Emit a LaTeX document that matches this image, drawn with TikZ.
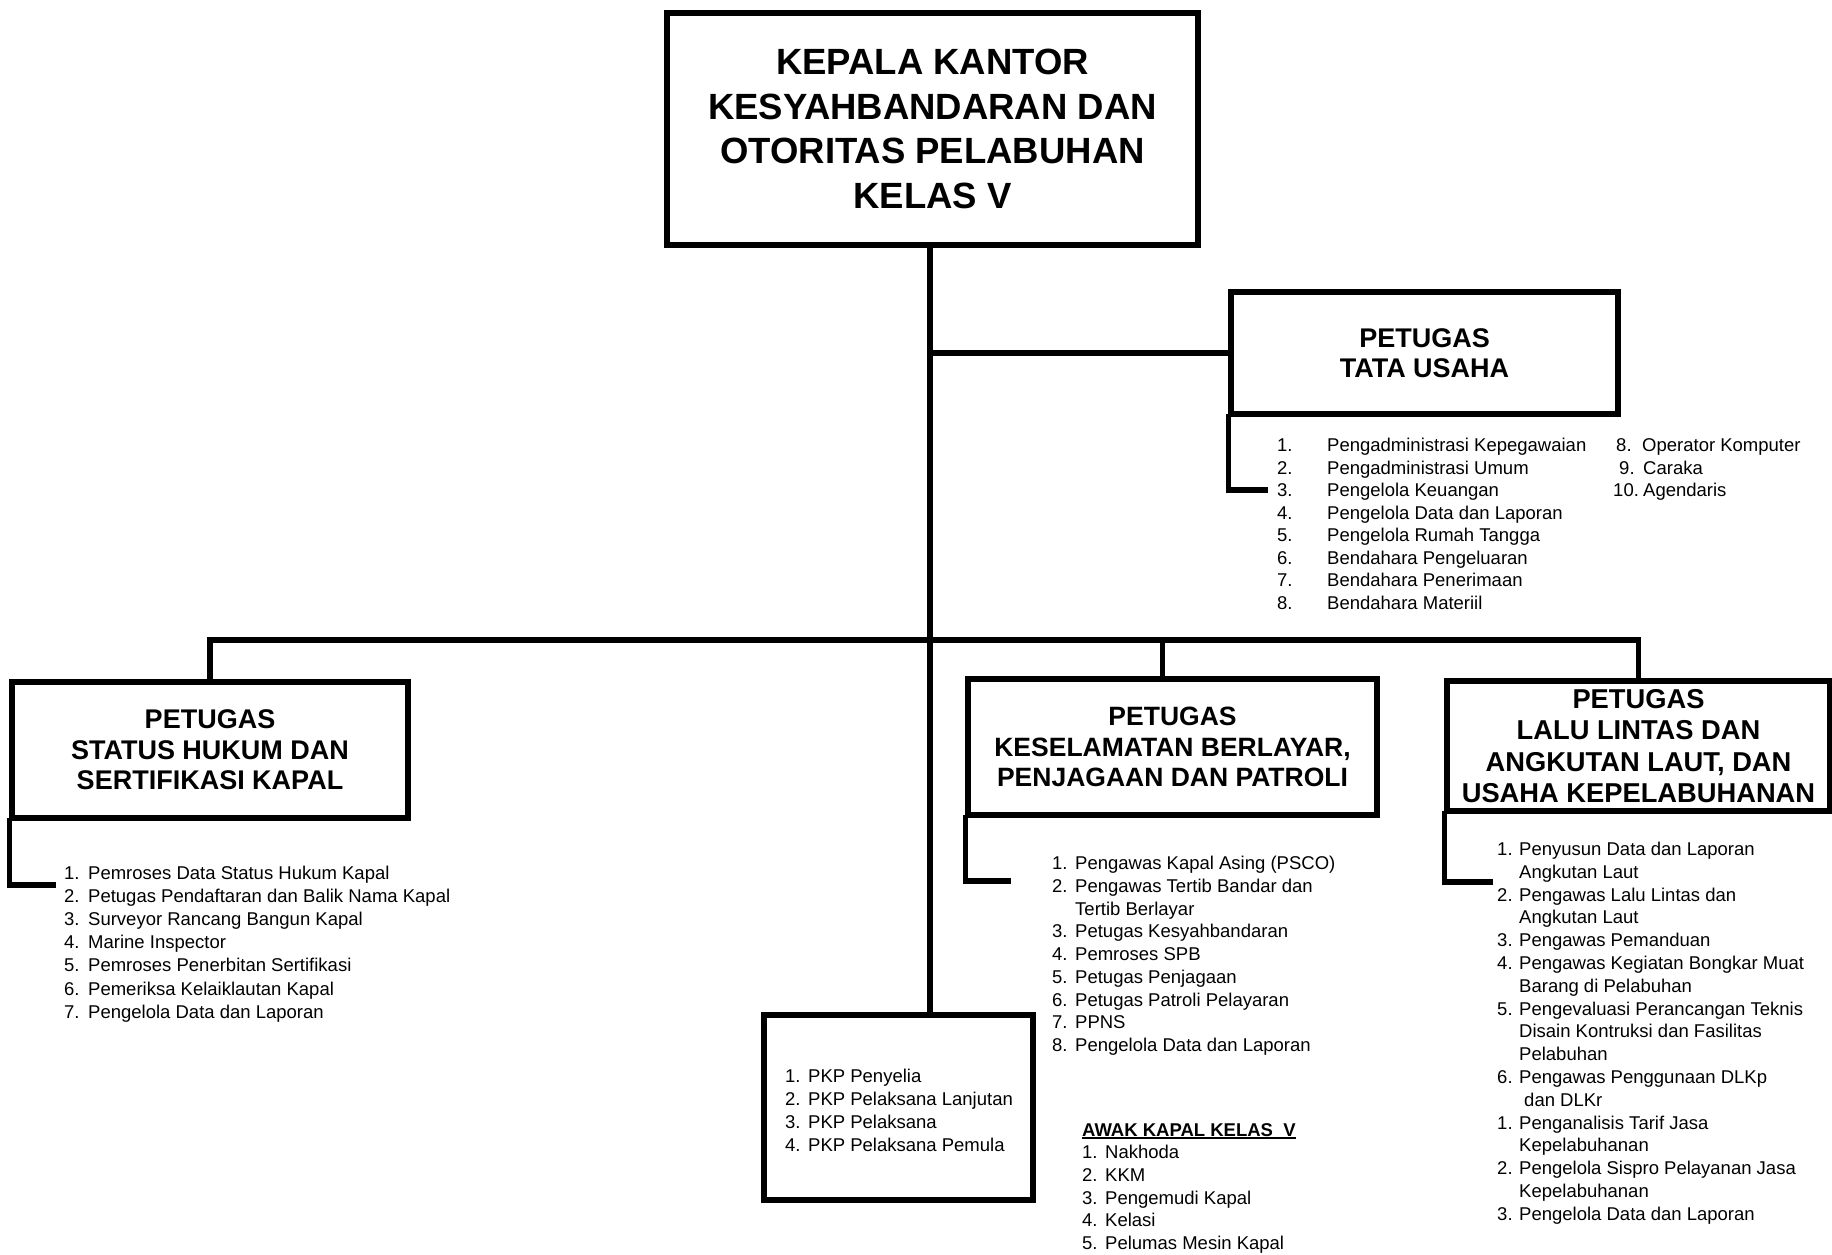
\documentclass[tikz,border=0pt]{standalone}
\usepackage{fontspec}
\setmainfont{Liberation Sans}
% bold rule under a heading, independent of the math rule thickness
\newcommand\ulbar[1]{\setbox0\hbox{#1}\rlap{\rule[-3pt]{\wd0}{1.8pt}}\box0}
\begin{document}
\begin{tikzpicture}[x=1pt,y=-1pt,
  unitbox/.style={draw, line width=5.5pt, rectangle, inner sep=0pt, align=center,
    font=\bfseries\fontsize{27}{30.5}\selectfont},
  wire/.style={line width=5.5pt, line cap=rect, line join=miter},
  rowtxt/.style={anchor=base west, inner sep=0pt, font=\fontsize{18.5}{22}\selectfont}]
\useasboundingbox (0,0) rectangle (1832,1254);

% ---------- boxes ----------
\node[unitbox, minimum width=531pt, minimum height=232pt,
      font=\bfseries\fontsize{36.5}{44.7}\selectfont] (head) at (932.5,129)
  {KEPALA KANTOR\\KESYAHBANDARAN DAN\\OTORITAS PELABUHAN\\KELAS V};
\node[unitbox, minimum width=387pt, minimum height=122pt] (tata) at (1424.5,353)
  {PETUGAS\\TATA USAHA};
\node[unitbox, minimum width=396pt, minimum height=136pt] (sthk) at (210,750)
  {PETUGAS\\STATUS HUKUM DAN\\SERTIFIKASI KAPAL};
\node[unitbox, minimum width=409pt, minimum height=136pt,
      font=\bfseries\fontsize{26.5}{30.5}\selectfont] (kslm) at (1172.5,747)
  {PETUGAS\\KESELAMATAN BERLAYAR,\\PENJAGAAN DAN PATROLI};
\node[unitbox, minimum width=383pt, minimum height=130pt,
      font=\bfseries\fontsize{27.3}{31.2}\selectfont] (lalu) at (1638.5,746)
  {PETUGAS\\LALU LINTAS DAN\\ANGKUTAN LAUT, DAN\\USAHA KEPELABUHANAN};
\node[draw, line width=5.5pt, rectangle, minimum width=269pt, minimum height=185pt] (pkp) at (898.5,1107.5) {};

% ---------- connectors ----------
\coordinate (bus) at (930,640);
\draw[wire] (head.south -| bus) -- (bus |- pkp.north);
\draw[wire] (bus |- tata.west) -- (tata.west);
\draw[wire] (sthk.north) |- (bus) -| (lalu.north);
\draw[wire] ([xshift=-10pt]kslm.north) -- ([xshift=-10pt]kslm.north |- bus);

% list brackets
\coordinate (tataTip) at (1265,490);
\coordinate (sthkTip) at (53,885);
\coordinate (kslmTip) at (1008,881);
\coordinate (laluTip) at (1490,882);
\draw[wire] (tata.south west) |- (tataTip);
\draw[wire] (sthk.south west) |- (sthkTip);
\draw[wire] (kslm.south west) |- (kslmTip);
\draw[wire] (lalu.south west) |- (laluTip);

% ---------- lists ----------
% Tata Usaha
\foreach \n/\t [count=\i from 0] in {1./Pengadministrasi Kepegawaian,
    2./Pengadministrasi Umum, 3./Pengelola Keuangan, 4./Pengelola Data dan Laporan,
    5./Pengelola Rumah Tangga, 6./Bendahara Pengeluaran, 7./Bendahara Penerimaan,
    8./Bendahara Materiil}
  \node[rowtxt] (tata\i) at (1277,451.5+22.5*\i) {\makebox[50pt][l]{\n}\t};
\node[rowtxt] (tataB0) at (1616,451.5) {\makebox[26pt][l]{8.}Operator Komputer};
\node[rowtxt] (tataB1) at (1616,474) {\makebox[27pt][l]{\hspace{3pt}9.}Caraka};
\node[rowtxt] (tataB2) at (1613,496.5) {\makebox[30pt][l]{10.}Agendaris};

% Status hukum dan sertifikasi kapal
\foreach \n/\t [count=\i from 0] in {1./Pemroses Data Status Hukum Kapal,
    2./Petugas Pendaftaran dan Balik Nama Kapal, 3./Surveyor Rancang Bangun Kapal,
    4./Marine Inspector, 5./Pemroses Penerbitan Sertifikasi,
    6./Pemeriksa Kelaiklautan Kapal, 7./Pengelola Data dan Laporan}
  \node[rowtxt] (sthk\i) at (64,879.5+23.1*\i) {\makebox[24pt][l]{\n}\t};

% Keselamatan berlayar
\foreach \n/\t [count=\i from 0] in {1./Pengawas Kapal Asing (PSCO),
    2./Pengawas Tertib Bandar dan, /Tertib Berlayar, 3./Petugas Kesyahbandaran,
    4./Pemroses SPB, 5./Petugas Penjagaan, 6./Petugas Patroli Pelayaran,
    7./PPNS, 8./Pengelola Data dan Laporan}
  \node[rowtxt] (kslm\i) at (1052,869.5+22.75*\i) {\makebox[23pt][l]{\n}\t};

% Lalu lintas dan angkutan laut
\foreach \n/\t [count=\i from 0] in {1./Penyusun Data dan Laporan, /Angkutan Laut,
    2./Pengawas Lalu Lintas dan, /Angkutan Laut, 3./Pengawas Pemanduan,
    4./Pengawas Kegiatan Bongkar Muat, /Barang di Pelabuhan,
    5./Pengevaluasi Perancangan Teknis, /Disain Kontruksi dan Fasilitas, /Pelabuhan,
    6./Pengawas Penggunaan DLKp, /\hspace*{5pt}dan DLKr,
    1./Penganalisis Tarif Jasa, /Kepelabuhanan,
    2./Pengelola Sispro Pelayanan Jasa, /Kepelabuhanan,
    3./Pengelola Data dan Laporan}
  \node[rowtxt] (lalu\i) at (1497,855.5+22.8*\i) {\makebox[22pt][l]{\n}\t};

% Pejabat keselamatan kapal
\foreach \n/\t [count=\i from 0] in {1./PKP Penyelia, 2./PKP Pelaksana Lanjutan,
    3./PKP Pelaksana, 4./PKP Pelaksana Pemula}
  \node[rowtxt] (pkp\i) at (785,1082.5+23*\i) {\makebox[23pt][l]{\n}\t};

% Awak kapal
\node[rowtxt, font=\bfseries\fontsize{18.5}{22}\selectfont] (awak) at (1082,1136)
  {\ulbar{AWAK KAPAL KELAS\ \ V}};
\foreach \n/\t [count=\i from 0] in {1./Nakhoda, 2./KKM, 3./Pengemudi Kapal,
    4./Kelasi, 5./Pelumas Mesin Kapal}
  \node[rowtxt] (awak\i) at (1082,1158.5+22.8*\i) {\makebox[23pt][l]{\n}\t};
\end{tikzpicture}
\end{document}
